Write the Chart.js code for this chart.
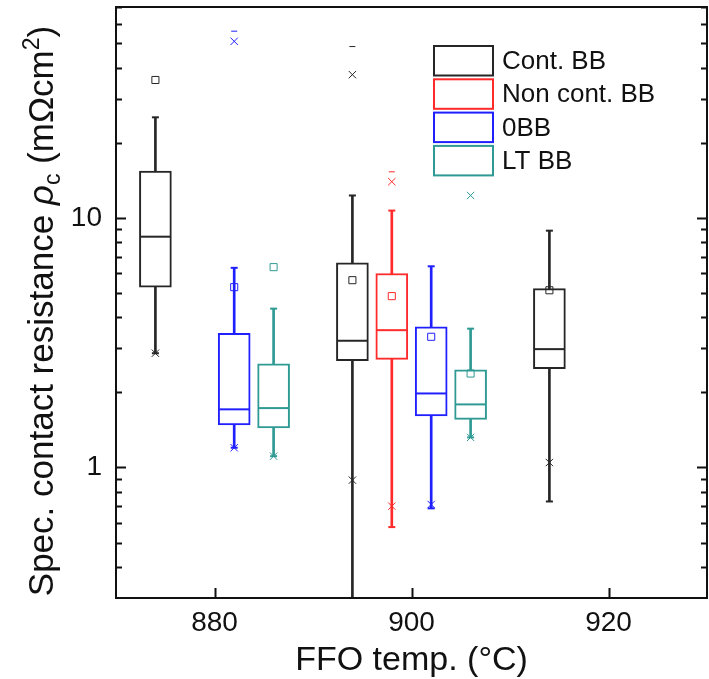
<!DOCTYPE html>
<html>
<head>
<meta charset="utf-8">
<script src="https://cdn.jsdelivr.net/npm/chart.js@4.4.0/dist/chart.umd.min.js"></script>
<style>
  html, body { margin: 0; padding: 0; background: #fff; }
  canvas { display: block; }
</style>
</head>
<body>
<canvas id="boxChart" width="709" height="679"></canvas>
<script>
// one entry per box, ordered by temperature
const boxSeries = ['Cont. BB', '0BB', 'LT BB', 'Cont. BB', 'Non cont. BB', '0BB', 'LT BB', 'Cont. BB'];
const boxTemps = [874, 882, 886, 894, 898, 902, 906, 914];
const q1 = [5.28, 1.48, 1.44, 2.68, 2.71, 1.61, 1.56, 2.49];
const medians = [8.41, 1.71, 1.73, 3.22, 3.55, 1.98, 1.79, 2.98];
const q3 = [15.4, 3.45, 2.60, 6.61, 5.99, 3.66, 2.46, 5.21];
const whiskerLow = [2.87, 1.20, 1.11, 0.2, 0.577, 0.686, 1.32, 0.731];
const whiskerHigh = [25.3, 6.31, 4.33, 12.3, 10.7, 6.40, 3.60, 8.89];
const means = [35.7, 5.28, 6.35, 5.63, 4.86, 3.34, 2.38, 5.13];
const pctLow = [2.87, 1.20, 1.11, 0.89, 0.70, 0.711, 1.32, 1.047];   // x markers
const pctHigh = [null, 51.0, null, 37.5, 13.97, null, 12.3, null];
const maxVals = [null, 56.0, null, 48.6, 15.3, null, null, null];   // dash markers

const legendNames = ['Cont. BB', 'Non cont. BB', '0BB', 'LT BB'];
const seriesColors = ['#262626', '#ff2a2a', '#2020ff', '#2f9a93'];

const xTicks = [880, 900, 920];
const yTicks = [1, 10];
const yMinorTicks = [0.4, 0.5, 0.6, 0.7, 0.8, 0.9, 2, 3, 4, 5, 6, 7, 8, 9, 20, 30, 40, 50, 60, 70];

const FONT = '"Liberation Sans", Arial, sans-serif';
const boxColors = boxSeries.map(s => seriesColors[legendNames.indexOf(s)]);

function pts(values) {
    return boxTemps.map((t, i) => ({ x: t, y: values[i] }));
}

function markerSet(label, values, style, radius, width, colors, order) {
    return {
        type: 'scatter',
        label: label,
        data: values,
        pointStyle: style,
        pointRadius: radius,
        pointBorderWidth: width,
        pointBorderColor: colors,
        pointBackgroundColor: 'rgba(0,0,0,0)',
        order: order
    };
}

// frame, inward ticks, legend and the y title
const decorPlugin = {
    id: 'decor',
    afterDatasetsDraw(chart) {
        const ctx = chart.ctx;
        const a = chart.chartArea;
        const xs = chart.scales.x;
        const ys = chart.scales.y;
        ctx.save();
        ctx.strokeStyle = '#111';
        ctx.lineWidth = 2;
        ctx.strokeRect(a.left, a.top, a.right - a.left, a.bottom - a.top);

        ctx.beginPath();
        yTicks.concat(yMinorTicks).forEach(v => {
            const len = yTicks.includes(v) ? 10 : 6;
            const y = Math.round(ys.getPixelForValue(v)) + 0.5;
            ctx.moveTo(a.left, y); ctx.lineTo(a.left + len, y);
            ctx.moveTo(a.right, y); ctx.lineTo(a.right - len, y);
        });
        xTicks.forEach(v => {
            const x = Math.round(xs.getPixelForValue(v)) + 0.5;
            ctx.moveTo(x, a.bottom); ctx.lineTo(x, a.bottom - 10);
        });
        ctx.stroke();

        // legend
        ctx.font = '26px ' + FONT;
        ctx.textBaseline = 'middle';
        ctx.textAlign = 'left';
        legendNames.forEach((name, i) => {
            const top = 46 + i * 33.3;
            ctx.strokeStyle = seriesColors[i];
            ctx.lineWidth = 2;
            ctx.strokeRect(434, top, 59, 29.5);
            ctx.fillStyle = '#111';
            ctx.fillText(name, 502, top + 16);
        });

        // y axis title with italic rho, subscript c, superscript 2
        const parts = [
            { t: 'Spec. contact resistance ', f: '35px ' + FONT, dy: 0 },
            { t: 'ρ', f: 'italic 35px ' + FONT, dy: 0 },
            { t: 'c', f: '23px ' + FONT, dy: 7 },
            { t: ' (mΩcm', f: '35px ' + FONT, dy: 0 },
            { t: '2', f: '23px ' + FONT, dy: -14 },
            { t: ')', f: '35px ' + FONT, dy: 0 }
        ];
        let total = 0;
        parts.forEach(p => { ctx.font = p.f; p.w = ctx.measureText(p.t).width; total += p.w; });
        ctx.translate(53, 311);
        ctx.rotate(-Math.PI / 2);
        ctx.textBaseline = 'alphabetic';
        ctx.fillStyle = '#111';
        let x = -total / 2;
        parts.forEach(p => {
            ctx.font = p.f;
            ctx.fillText(p.t, x, p.dy);
            x += p.w;
        });
        ctx.restore();
    }
};

const ctx = document.getElementById('boxChart').getContext('2d');
const boxChart = new Chart(ctx, {
    type: 'bar',
    data: {
        datasets: [
            {
                label: 'whiskers',
                data: boxTemps.map((t, i) => ({ x: t, y: [whiskerLow[i], whiskerHigh[i]] })),
                backgroundColor: boxColors,
                borderWidth: 0,
                barThickness: 2,
                grouped: false,
                order: 5
            },
            {
                label: 'boxes',
                data: boxTemps.map((t, i) => ({ x: t, y: [q1[i], q3[i]] })),
                backgroundColor: '#ffffff',
                borderColor: boxColors,
                borderWidth: 2,
                borderSkipped: false,
                barThickness: 32,
                grouped: false,
                order: 4
            },
            markerSet('median', pts(medians), 'line', 15, 2, boxColors, 3),
            markerSet('caps', pts(whiskerLow).concat(pts(whiskerHigh)), 'line', 3.5, 2, boxColors.concat(boxColors), 3),
            markerSet('mean', pts(means), 'rect', 5, 1, boxColors, 1),
            markerSet('1%', pts(pctLow), 'crossRot', 5.2, 1, boxColors, 1),
            markerSet('99%', pts(pctHigh), 'crossRot', 5.2, 1, boxColors, 1),
            markerSet('max', pts(maxVals), 'line', 3, 1, boxColors, 1)
        ]
    },
    options: {
        responsive: false,
        animation: false,
        events: [],
        layout: { autoPadding: false, padding: { top: 7, right: 2, left: 0, bottom: 0 } },
        plugins: {
            legend: { display: false },
            tooltip: { enabled: false }
        },
        scales: {
            x: {
                type: 'linear',
                min: 870,
                max: 930,
                offset: false,
                afterBuildTicks: axis => { axis.ticks = xTicks.map(v => ({ value: v })); },
                afterFit: scale => {
                    scale.height = 81;
                    scale.paddingLeft = 0;
                    scale.paddingRight = 0;
                },
                grid: { display: false, drawTicks: false, offset: false },
                border: { display: false },
                ticks: { font: { family: FONT, size: 28 }, color: '#111', padding: 8, maxRotation: 0 },
                title: {
                    display: true,
                    text: 'FFO temp. (°C)',
                    font: { family: FONT, size: 34 },
                    color: '#111',
                    padding: { top: 0, bottom: -2 }
                }
            },
            y: {
                type: 'logarithmic',
                min: 0.3,
                max: 70,
                afterBuildTicks: axis => { axis.ticks = yTicks.map(v => ({ value: v })); },
                afterFit: scale => {
                    scale.width = 116;
                    scale.paddingTop = 0;
                    scale.paddingBottom = 0;
                },
                grid: { display: false, drawTicks: false },
                border: { display: false },
                ticks: {
                    font: { family: FONT, size: 28 },
                    color: '#111',
                    padding: 14,
                    callback: v => String(v)
                }
            }
        }
    },
    plugins: [decorPlugin]
});
</script>
</body>
</html>
